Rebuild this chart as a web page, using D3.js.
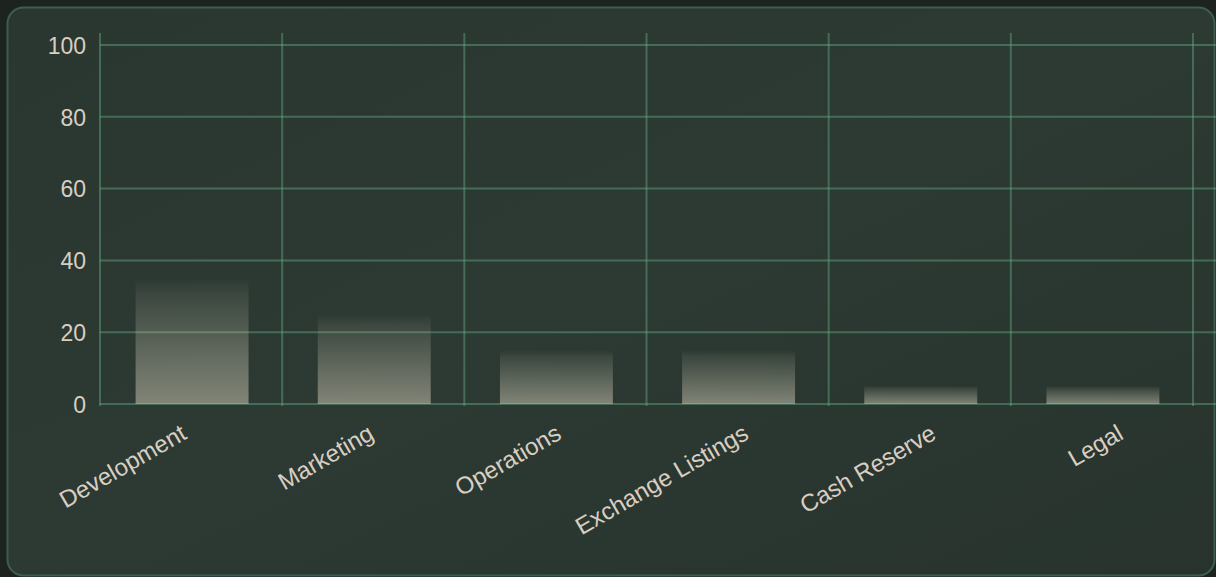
<!DOCTYPE html>
<html><head><meta charset="utf-8">
<script src="https://cdn.jsdelivr.net/npm/d3@7"></script>
<style>
html,body{margin:0;padding:0;background:#1d2420;overflow:hidden;}
svg{display:block;}
</style></head>
<body>
<svg id="chart" width="1216" height="577"></svg>
<script>
const categories = ["Development","Marketing","Operations","Exchange Listings","Cash Reserve","Legal"];
const values = [35, 25, 15, 15, 5, 5];
const yTicks = [0, 20, 40, 60, 80, 100];

const W = 1216, H = 577;
const svg = d3.select("#chart");
const defs = svg.append("defs");

const bgGrad = defs.append("linearGradient").attr("id","bgGrad").attr("x1","0").attr("y1","0").attr("x2","1").attr("y2","1");
bgGrad.append("stop").attr("offset","0").attr("stop-color","#2a3731");
bgGrad.append("stop").attr("offset","0.5").attr("stop-color","#2c3a33");
bgGrad.append("stop").attr("offset","1").attr("stop-color","#28332d");

const barGrad = defs.append("linearGradient").attr("id","barGrad").attr("x1","0").attr("y1","0").attr("x2","0").attr("y2","1");
barGrad.append("stop").attr("offset","0").attr("stop-color","#cbc5b2").attr("stop-opacity",0.0);
barGrad.append("stop").attr("offset","0.12").attr("stop-color","#cbc5b2").attr("stop-opacity",0.1);
barGrad.append("stop").attr("offset","1").attr("stop-color","#cbc5b2").attr("stop-opacity",0.54);

svg.append("rect").attr("width",W).attr("height",H).attr("fill","#1d2420");
svg.append("rect").attr("x",7.5).attr("y",7.5).attr("width",1207).attr("height",568).attr("rx",16)
  .attr("fill","url(#bgGrad)").attr("stroke","#3d5e4c").attr("stroke-width",2);

const plot = {left:100, right:1193, top:45, bottom:404};
const x = d3.scaleBand().domain(categories).range([plot.left, plot.right]).paddingInner(0).paddingOuter(0);
const y = d3.scaleLinear().domain([0,100]).range([plot.bottom, plot.top]);

const gridColor = "rgba(105,178,136,0.42)";
const grid = svg.append("g");
grid.selectAll("line.h").data(yTicks).join("line")
  .attr("x1",plot.left).attr("x2",W).attr("y1",d=>y(d)).attr("y2",d=>y(d))
  .attr("stroke",gridColor).attr("stroke-width",2);
const vx = categories.map(c=>x(c)).concat([x(categories[categories.length-1])+x.bandwidth()]);
grid.selectAll("line.v").data(vx).join("line")
  .attr("x1",d=>d).attr("x2",d=>d).attr("y1",33).attr("y2",406)
  .attr("stroke",gridColor).attr("stroke-width",2);

const barW = x.bandwidth()*0.62;
svg.append("g").selectAll("rect").data(values).join("rect")
  .attr("x",(d,i)=>x(categories[i]) + (x.bandwidth()-barW)/2 + 1)
  .attr("y",d=>y(d)).attr("width",barW).attr("height",d=>y(0)-y(d))
  .attr("fill","url(#barGrad)");

const textColor = "#d8cec2";
const yAxis = d3.axisLeft(y).tickValues(yTicks).tickSize(0).tickPadding(0);
const gy = svg.append("g").attr("transform","translate(86,1)").call(yAxis);
gy.select(".domain").remove();
gy.selectAll("text").attr("fill",textColor).attr("font-family","'Liberation Sans', Arial, sans-serif").attr("font-size",23);

const labelX = d3.scalePoint().domain(categories).range([188, 1125]);
svg.append("g").selectAll("text").data(categories).join("text")
  .attr("transform",d=>`translate(${labelX(d)},438) rotate(-30)`)
  .attr("text-anchor","end")
  .attr("fill",textColor).attr("font-family","'Liberation Sans', Arial, sans-serif").attr("font-size",24)
  .text(d=>d);
</script>
</body></html>
